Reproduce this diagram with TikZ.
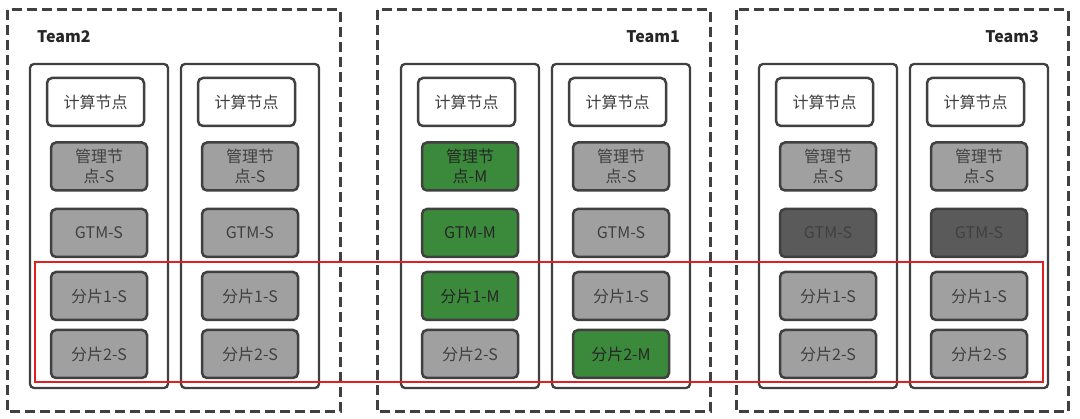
\documentclass[tikz,border=0pt]{standalone}
\usepackage{fontspec}
\setmainfont{Noto Sans CJK SC}
\newfontfamily\cjk{Noto Sans CJK SC}
\definecolor{edge}{HTML}{404040}
\definecolor{boxgray}{HTML}{A0A0A0}
\definecolor{boxgreen}{HTML}{3B8A3B}
\definecolor{boxdark}{HTML}{5A5A5A}
\definecolor{redline}{HTML}{E02020}
\begin{document}
\begin{tikzpicture}[x=1pt,y=-1pt,
  teambox/.style={draw=edge, line width=3pt, dash pattern=on 10pt off 5pt},
  colbox/.style={draw=edge, line width=2.3pt, rounded corners=4pt, fill=white},
  nbox/.style={draw=edge, line width=2.5pt, rounded corners=5pt, minimum width=96pt, minimum height=48pt, inner sep=0pt, align=center, text=edge, font=\cjk\fontsize{16}{20}\selectfont},
  compute/.style={nbox, fill=white, minimum width=97pt},
  gray/.style={nbox, fill=boxgray},
  green/.style={nbox, fill=boxgreen, text=black!85},
  dark/.style={nbox, fill=boxdark, text=edge},
  teamlabel/.style={font=\cjk\bfseries\fontsize{16}{18}\selectfont, text=black!85, inner sep=0pt},
  redbox/.style={draw=redline, line width=1.8pt}
]
\useasboundingbox (0,0) rectangle (1080,419);
% team boxes
\draw[teambox] (7,10) rectangle (340,412);
\draw[teambox] (377,10) rectangle (710,412);
\draw[teambox] (736,10) rectangle (1068,412);
\node[teamlabel, anchor=west] (lt2) at (37,37) {Team2};
\node[teamlabel, anchor=east] (lt1) at (680,37) {Team1};
\node[teamlabel, anchor=east] (lt3) at (1039,37) {Team3};
% columns
\foreach \cx in {30,181,401,552,759,910}{
  \draw[colbox] (\cx,64) rectangle (\cx+138,388);
}
% Team2 column a (x=30)
\node[compute] (a1) at (95.5,102) {计算节点};
\node[gray] (a2) at (99,166.5) {管理节\\点-S};
\node[gray] (a3) at (99,233) {GTM-S};
\node[gray] (a4) at (99,296) {分片1-S};
\node[gray] (a5) at (99,354) {分片2-S};
% Team2 column b (x=181)
\node[compute] (b1) at (246.5,102) {计算节点};
\node[gray] (b2) at (250,166.5) {管理节\\点-S};
\node[gray] (b3) at (250,233) {GTM-S};
\node[gray] (b4) at (250,296) {分片1-S};
\node[gray] (b5) at (250,354) {分片2-S};
% Team1 column c (x=401)
\node[compute] (c1) at (466.5,102) {计算节点};
\node[green] (c2) at (470,166.5) {管理节\\点-M};
\node[green] (c3) at (470,233) {GTM-M};
\node[green] (c4) at (470,296) {分片1-M};
\node[gray] (c5) at (470,354) {分片2-S};
% Team1 column d (x=552)
\node[compute] (d1) at (617.5,102) {计算节点};
\node[gray] (d2) at (621,166.5) {管理节\\点-S};
\node[gray] (d3) at (621,233) {GTM-S};
\node[gray] (d4) at (621,296) {分片1-S};
\node[green] (d5) at (621,354) {分片2-M};
% Team3 column e (x=759)
\node[compute] (e1) at (824.5,102) {计算节点};
\node[gray] (e2) at (828,166.5) {管理节\\点-S};
\node[dark] (e3) at (828,233) {GTM-S};
\node[gray] (e4) at (828,296) {分片1-S};
\node[gray] (e5) at (828,354) {分片2-S};
% Team3 column f (x=910)
\node[compute] (f1) at (975.5,102) {计算节点};
\node[gray] (f2) at (979,166.5) {管理节\\点-S};
\node[dark] (f3) at (979,233) {GTM-S};
\node[gray] (f4) at (979,296) {分片1-S};
\node[gray] (f5) at (979,354) {分片2-S};
% red rectangle
\draw[redbox] (35,262) rectangle (1043,382);
\end{tikzpicture}
\end{document}
